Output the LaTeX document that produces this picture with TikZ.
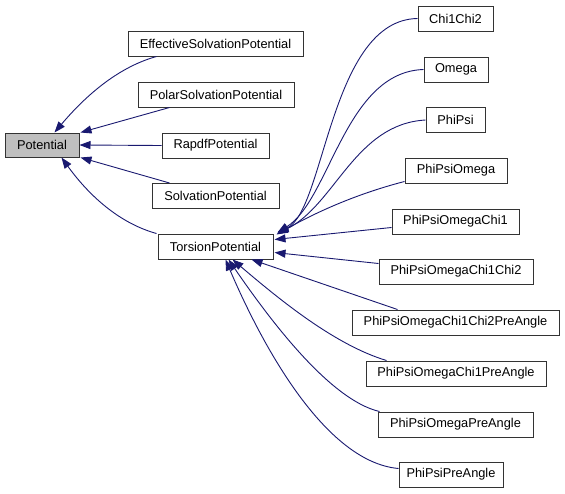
\documentclass[tikz,border=0pt]{standalone}
\usepackage{fontspec}
\setmainfont{Liberation Sans}
\usetikzlibrary{arrows.meta,calc}
\definecolor{edgeblue}{HTML}{191970}
\definecolor{boxgray}{HTML}{BFBFBF}
\tikzset{
  box/.style={draw=black!80, line width=1pt, rectangle, inner sep=0pt, minimum height=25pt, font=\fontsize{12.8}{14}\selectfont, fill=white},
  edge/.style={draw=edgeblue, line width=0.9pt, -{Triangle[length=11pt,width=8pt]}},
}
\begin{document}
\begin{tikzpicture}[x=1pt,y=-1pt]
\useasboundingbox (0,0) rectangle (565,493);
% nodes
\node[box, fill=boxgray, minimum width=74pt, minimum height=24pt] (pot) at (42,145) {Potential};
\node[box, minimum width=175pt] (esp) at (215.5,43.5) {EffectiveSolvationPotential};
\node[box, minimum width=156pt] (psp) at (216,94.5) {PolarSolvationPotential};
\node[box, minimum width=107pt] (rap) at (215.5,145.5) {RapdfPotential};
\node[box, minimum width=127pt] (sol) at (215.5,196) {SolvationPotential};
\node[box, minimum width=115pt] (tor) at (215.5,246.5) {TorsionPotential};
\node[box, minimum width=75pt] (c12) at (455.5,18.5) {Chi1Chi2};
\node[box, minimum width=64pt] (ome) at (456,69.5) {Omega};
\node[box, minimum width=59pt] (pp) at (455.5,120) {PhiPsi};
\node[box, minimum width=102pt] (ppo) at (456,170.5) {PhiPsiOmega};
\node[box, minimum width=127pt] (ppoc) at (455.5,221.5) {PhiPsiOmegaChi1};
\node[box, minimum width=154pt] (ppocc) at (456,271.5) {PhiPsiOmegaChi1Chi2};
\node[box, minimum width=207pt] (ppoccp) at (455.5,322.5) {PhiPsiOmegaChi1Chi2PreAngle};
\node[box, minimum width=180pt] (ppocp) at (456,373.5) {PhiPsiOmegaChi1PreAngle};
\node[box, minimum width=155pt] (ppop) at (455.5,424.5) {PhiPsiOmegaPreAngle};
\node[box, minimum width=104pt] (ppp) at (451,474.5) {PhiPsiPreAngle};
% edges to Potential
\draw[edge] ($(esp.south west)+(29,0)$) .. controls (115,68) and (82,100) .. ($(pot.north west)+(50,0)$);
\draw[edge] ($(psp.south west)+(32,0)$) -- ($(pot.north east)+(1,0)$);
\draw[edge] (rap.west) -- (pot.east);
\draw[edge] ($(sol.north west)+(18,0)$) -- ($(pot.south east)+(1,0)$);
\draw[edge] ($(tor.north west)+(-1,0)$) .. controls (115,222) and (85,190) .. ($(pot.south west)+(57,0)$);
% edges to TorsionPotential
\draw[edge] (c12.west) .. controls (330,20) and (325,210) .. ($(tor.north east)+(4,-1)$);
\draw[edge] (ome.west) .. controls (345,72) and (330,200) .. ($(tor.north east)+(4,-1)$);
\draw[edge] (pp.west) .. controls (355,124) and (335,205) .. ($(tor.north east)+(4,0)$);
\draw[edge] ($(ppo.south west)+(0,-2)$) .. controls (360,193) and (320,210) .. ($(tor.north east)+(3,1)$);
\draw[edge] ($(ppoc.west)+(0,6)$) -- ($(tor.east)+(1,-7)$);
\draw[edge] ($(ppocc.west)+(0,-8)$) -- ($(tor.east)+(1,6)$);
\draw[edge] ($(ppoccp.north west)+(46,0)$) -- ($(tor.south east)+(-22,0)$);
\draw[edge] ($(ppocp.north west)+(21,0)$) .. controls (335,345) and (280,300) .. ($(tor.south west)+(75,0)$);
\draw[edge] ($(ppop.north west)+(2,0)$) .. controls (330,400) and (270,320) .. ($(tor.south west)+(71,0)$);
\draw[edge] ($(ppp.west)+(0,-6)$) .. controls (325,462) and (262,345) .. ($(tor.south west)+(68,0)$);
\end{tikzpicture}
\end{document}
